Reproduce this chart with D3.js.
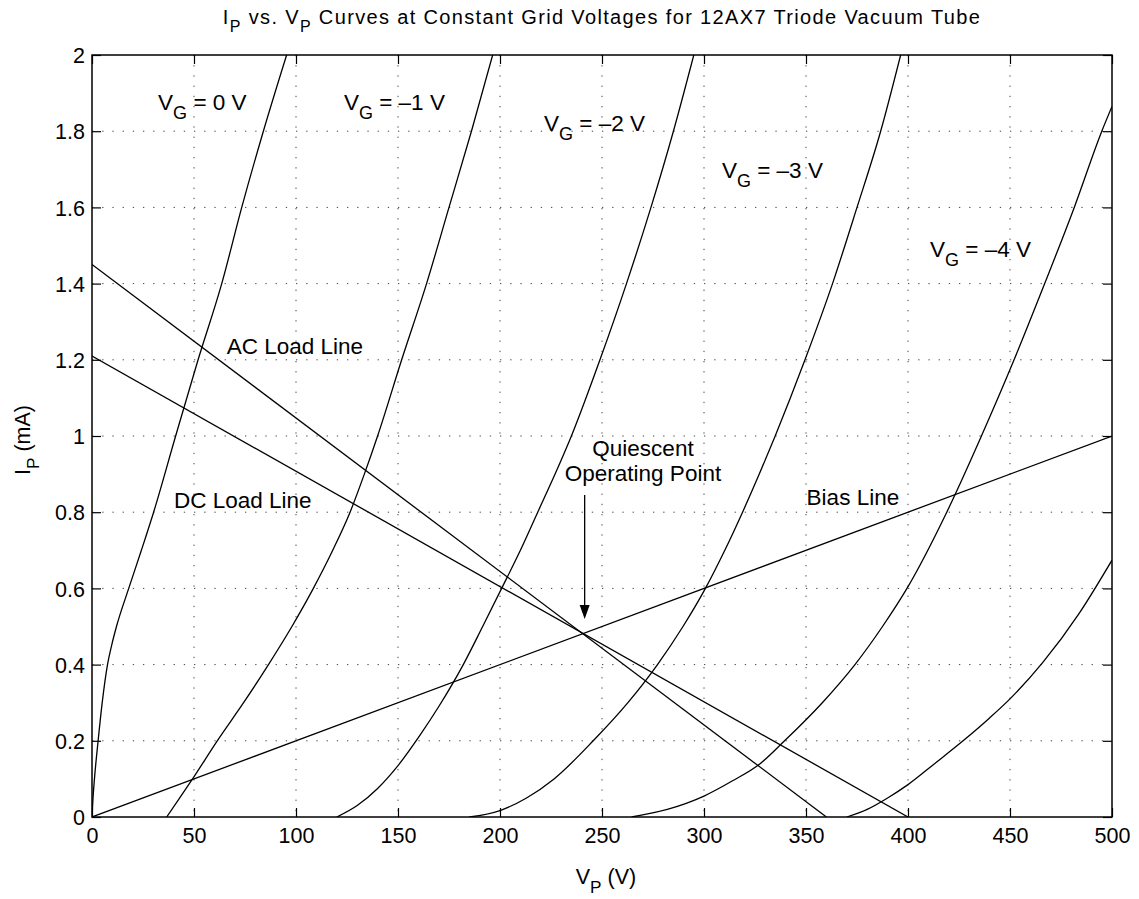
<!DOCTYPE html>
<html>
<head>
<meta charset="utf-8">
<script src="https://cdn.jsdelivr.net/npm/d3@7"></script>
<style>
  body { margin: 0; background: #fff; }
  svg { display: block; font-family: "Liberation Sans", Arial, Helvetica, sans-serif; }
</style>
</head>
<body>
<div id="chart"></div>
<script>
// Plate current (mA) vs plate voltage (V)
const vg0V = [0, 0.5, 1.2, 3.0, 5.0, 7.6, 9.6, 12.0, 18.0, 24.2, 30.2, 41, 52, 63.6, 73.4, 84, 95.4];
const vg0I = [0, 0.05, 0.1, 0.2, 0.3, 0.4, 0.45, 0.5, 0.6, 0.7, 0.8, 1.0, 1.2, 1.4, 1.6, 1.8, 2.0];

const vg1V = [36.6, 43, 49.3, 61.4, 74.3, 86.5, 98, 108.5, 118, 126.5, 133.5, 140, 151.8, 164, 175, 186, 196.4];
const vg1I = [0, 0.05, 0.1, 0.2, 0.3, 0.4, 0.5, 0.6, 0.7, 0.8, 0.9, 1.0, 1.2, 1.4, 1.6, 1.8, 2.0];

const vg2V = [120, 130, 140, 150, 160.8, 170, 182, 191.5, 200.8, 210, 218.5, 227, 235, 249, 262, 274, 285, 295];
const vg2I = [0, 0.03, 0.075, 0.135, 0.215, 0.29, 0.4, 0.5, 0.6, 0.7, 0.8, 0.9, 1.0, 1.2, 1.4, 1.6, 1.8, 2.0];

const vg3V = [185, 200, 213, 226.5, 245.7, 262.7, 277.2, 289.7, 300.7, 310.2, 318.9, 327.1, 334.9, 349.5, 363, 375, 386.6, 396.4];
const vg3I = [0, 0.017, 0.05, 0.1, 0.2, 0.3, 0.4, 0.5, 0.6, 0.7, 0.8, 0.9, 1.0, 1.2, 1.4, 1.6, 1.8, 2.0];

const vg4V = [264.5, 282, 300, 314, 327.5, 339.5, 358, 374, 387.5, 399.5, 419, 436, 452, 467, 481.5, 495, 500];
const vg4I = [0, 0.02, 0.055, 0.095, 0.14, 0.2, 0.3, 0.4, 0.5, 0.6, 0.8, 1.0, 1.2, 1.4, 1.6, 1.8, 1.865];

const vg5V = [370, 380, 390, 400, 413, 427, 440, 450, 466, 484, 500];
const vg5I = [0, 0.02, 0.05, 0.085, 0.14, 0.2, 0.26, 0.31, 0.405, 0.535, 0.674];

// straight lines: bias, DC load, AC load
const biasV = [0, 500], biasI = [0, 1.0];
const dcV = [0, 400], dcI = [1.21, 0];
const acV = [0, 360], acI = [1.45, 0];

// quiescent point arrow (V, from I, to I)
const arrowV = 241.5, arrowFromI = 0.845, arrowToI = 0.52;

const xTicks = [0, 50, 100, 150, 200, 250, 300, 350, 400, 450, 500];
const yTicks = [0, 0.2, 0.4, 0.6, 0.8, 1.0, 1.2, 1.4, 1.6, 1.8, 2.0];
const yTickLabels = ["0", "0.2", "0.4", "0.6", "0.8", "1", "1.2", "1.4", "1.6", "1.8", "2"];

// annotations: text pieces ("_" = subscript) placed at (V, I)
const annotations = [
  { parts: ["V", "_G", " = 0 V"], v: 32.4, i: 1.856 },
  { parts: ["V", "_G", " = \u20131 V"], v: 123.5, i: 1.856 },
  { parts: ["V", "_G", " = \u20132 V"], v: 221.6, i: 1.801 },
  { parts: ["V", "_G", " = \u20133 V"], v: 308.8, i: 1.677 },
  { parts: ["V", "_G", " = \u20134 V"], v: 410.8, i: 1.471 },
  { parts: ["AC Load Line"], v: 66, i: 1.215 },
  { parts: ["DC Load Line"], v: 40.2, i: 0.812 },
  { parts: ["Bias Line"], v: 350.3, i: 0.819 },
  { parts: ["Quiescent"], v: 270.1, i: 0.948, anchor: "middle" },
  { parts: ["Operating Point"], v: 270.1, i: 0.883, anchor: "middle" }
];

const width = 1139;
const height = 899;
const margin = { top: 55, right: 27, bottom: 82, left: 92 };
const innerWidth = width - margin.left - margin.right;
const innerHeight = height - margin.top - margin.bottom;

const svg = d3.select("#chart")
  .append("svg")
  .attr("width", width)
  .attr("height", height);

const g = svg.append("g")
  .attr("transform", `translate(${margin.left},${margin.top})`);

const x = d3.scaleLinear().domain([0, 500]).range([0, innerWidth]);
const y = d3.scaleLinear().domain([0, 2]).range([innerHeight, 0]);

// text with subscripts (baseline-shift keeps the text's own y untouched)
function richText(sel, parts, size) {
  const t = sel.append("text").attr("font-size", size).attr("fill", "#000");
  parts.forEach(p => {
    const sub = p.startsWith("_");
    const s = t.append("tspan").text(sub ? p.slice(1) : p);
    if (sub) s.attr("font-size", size * 0.8).attr("baseline-shift", -size * 0.42);
  });
  return t;
}

// grid
g.append("g")
  .selectAll("line")
  .data(xTicks.slice(1, -1))
  .join("line")
  .attr("x1", d => x(d)).attr("x2", d => x(d))
  .attr("y1", 0).attr("y2", innerHeight)
  .attr("stroke", "#444").attr("stroke-width", 1)
  .attr("stroke-dasharray", "1.3,8.9");

g.append("g")
  .selectAll("line")
  .data(yTicks.slice(1, -1))
  .join("line")
  .attr("x1", 0).attr("x2", innerWidth)
  .attr("y1", d => y(d)).attr("y2", d => y(d))
  .attr("stroke", "#444").attr("stroke-width", 1)
  .attr("stroke-dasharray", "1.3,8.9");

g.append("clipPath").attr("id", "plotclip")
  .append("rect").attr("width", innerWidth).attr("height", innerHeight);

const series = [
  [vg0V, vg0I], [vg1V, vg1I], [vg2V, vg2I], [vg3V, vg3I], [vg4V, vg4I], [vg5V, vg5I],
  [biasV, biasI], [dcV, dcI], [acV, acI]
].map(([vs, is]) => vs.map((v, k) => [v, is[k]]));

const line = d3.line()
  .x(d => x(d[0]))
  .y(d => y(d[1]))
  .curve(d3.curveMonotoneX);

g.append("g")
  .attr("clip-path", "url(#plotclip)")
  .selectAll("path")
  .data(series)
  .join("path")
  .attr("d", line)
  .attr("fill", "none")
  .attr("stroke", "#000")
  .attr("stroke-width", 1.3);

// arrow to quiescent point
const ax = x(arrowV), ay0 = y(arrowFromI), ay1 = y(arrowToI);
g.append("line")
  .attr("x1", ax).attr("x2", ax)
  .attr("y1", ay0).attr("y2", ay1 - 10)
  .attr("stroke", "#000").attr("stroke-width", 1.3);
g.append("path")
  .attr("d", `M${ax},${ay1} L${ax - 5},${ay1 - 14} L${ax + 5},${ay1 - 14} Z`)
  .attr("fill", "#000");

// annotations
annotations.forEach(a => {
  richText(g, a.parts, 22.5)
    .attr("x", x(a.v))
    .attr("y", y(a.i))
    .attr("text-anchor", a.anchor || "start");
});

// axes (ticks inside, box on)
const tickLen = 9;
const labelSize = 21.5;
g.append("g")
  .attr("transform", `translate(0,${innerHeight})`)
  .call(d3.axisBottom(x).tickValues(xTicks).tickSizeInner(-tickLen).tickSizeOuter(0))
  .selectAll("text")
  .attr("dy", null)
  .attr("y", 26);
g.append("g")
  .call(d3.axisLeft(y).tickValues(yTicks).tickFormat((d, k) => yTickLabels[k])
    .tickSizeInner(-tickLen).tickSizeOuter(0))
  .selectAll("text")
  .attr("dy", null)
  .attr("x", -7)
  .attr("y", labelSize * 0.36);
g.append("g")
  .call(d3.axisTop(x).tickValues(xTicks).tickSizeInner(-tickLen).tickSizeOuter(0).tickFormat(""))
  .selectAll("text").remove();
g.append("g")
  .attr("transform", `translate(${innerWidth},0)`)
  .call(d3.axisRight(y).tickValues(yTicks).tickSizeInner(-tickLen).tickSizeOuter(0).tickFormat(""))
  .selectAll("text").remove();

g.selectAll(".domain").remove();
g.selectAll(".tick line").attr("stroke", "#000").attr("stroke-width", 1.2);
g.selectAll(".tick text")
  .attr("font-size", labelSize)
  .attr("font-family", "'Liberation Sans', Arial, Helvetica, sans-serif")
  .attr("fill", "#000");

g.append("rect")
  .attr("width", innerWidth)
  .attr("height", innerHeight)
  .attr("fill", "none")
  .attr("stroke", "#000")
  .attr("stroke-width", 1.5);

// title and axis labels
richText(svg, ["I", "_P", " vs. V", "_P", " Curves at Constant Grid Voltages for 12AX7 Triode Vacuum Tube"], 20)
  .attr("x", margin.left + innerWidth / 2)
  .attr("y", 24)
  .attr("letter-spacing", 1.35)
  .attr("text-anchor", "middle");

richText(svg, ["V", "_P", " (V)"], labelSize)
  .attr("x", margin.left + innerWidth / 2 + 4)
  .attr("y", 884)
  .attr("text-anchor", "middle");

richText(svg, ["I", "_P", " (mA)"], labelSize)
  .attr("text-anchor", "middle")
  .attr("transform", `translate(30,${margin.top + innerHeight / 2 + 4}) rotate(-90)`);
</script>
</body>
</html>
